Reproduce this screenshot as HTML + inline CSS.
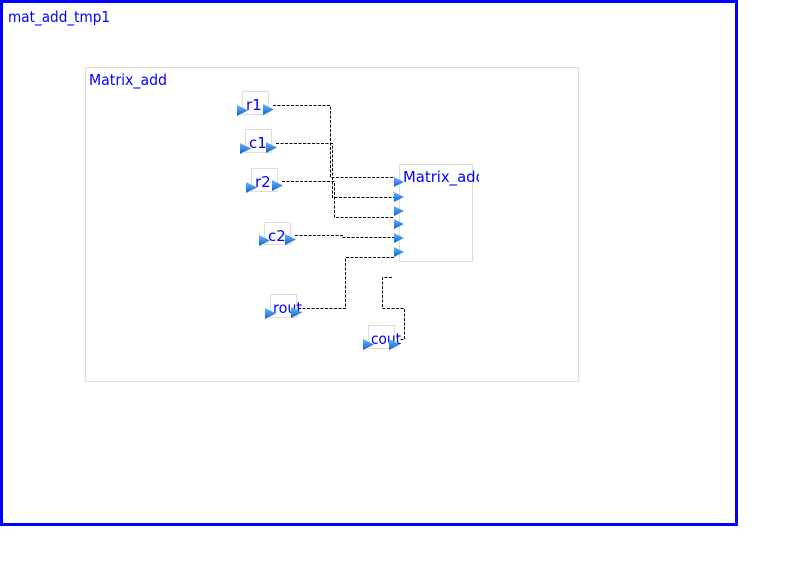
<!DOCTYPE html>
<html><head><meta charset="utf-8"><style>
html,body{margin:0;padding:0;background:#fff;width:789px;height:577px;overflow:hidden}
svg{display:block}
text{font-family:"DejaVu Sans","Liberation Sans",sans-serif;fill:#0000ff;font-size:15px}
</style></head><body>
<svg width="789" height="577" viewBox="0 0 789 577" xmlns="http://www.w3.org/2000/svg">
<defs>
<linearGradient id="g" x1="0" y1="0" x2="0" y2="1">
<stop offset="0" stop-color="#6ab8ff"/><stop offset="1" stop-color="#1060d0"/>
</linearGradient>
<symbol id="a" viewBox="0 0 10 10"><polygon points="0,0 10,5 0,10" fill="url(#g)"/></symbol>
</defs>
<rect x="1.5" y="1.5" width="735" height="523" fill="none" stroke="#0000ff" stroke-width="3"/>
<text x="8" y="22" textLength="102" lengthAdjust="spacingAndGlyphs">mat_add_tmp1</text>
<rect x="85.5" y="67.5" width="493" height="314" fill="none" stroke="#dddddd"/>
<text x="89" y="85" textLength="78" lengthAdjust="spacingAndGlyphs">Matrix_add</text>
<rect x="399.5" y="164.5" width="73" height="97" fill="none" stroke="#dddddd"/>
<g fill="#fff" stroke="#dddddd">
<rect x="242.5" y="91.5" width="26" height="23"/>
<rect x="245.5" y="129.5" width="26" height="23"/>
<rect x="251.5" y="168.5" width="26" height="23"/>
<rect x="264.5" y="222.5" width="26" height="22"/>
<rect x="270.5" y="294.5" width="26" height="23"/>
<rect x="368.5" y="325.5" width="26" height="23"/>
</g>
<text x="246" y="110">r1</text>
<text x="249" y="148">c1</text>
<text x="255" y="187">r2</text>
<text x="268" y="241">c2</text>
<text x="273" y="313" textLength="29" lengthAdjust="spacingAndGlyphs">rout</text>
<text x="371" y="344" textLength="30" lengthAdjust="spacingAndGlyphs">cout</text>
<text x="403" y="182" textLength="82" lengthAdjust="spacingAndGlyphs">Matrix_add</text>
<rect x="479" y="164" width="6" height="100" fill="#fff"/>
<g fill="none" stroke="#000" stroke-width="1" stroke-dasharray="3,1.5">
<polyline points="273,105.5 330.5,105.5 330.5,177.5 394,177.5"/>
<polyline points="276,143.5 332.5,143.5 332.5,197.5 394,197.5"/>
<polyline points="282,181.5 334.5,181.5 334.5,217.5 394,217.5"/>
<polyline points="295,235.5 342.5,235.5 342.5,237.5 394,237.5"/>
<polyline points="394,257.5 345.5,257.5 345.5,308.5 298,308.5"/>
<polyline points="392,277.5 382.5,277.5 382.5,308.5 404.5,308.5 404.5,339.5 399,339.5"/>
</g>
<use href="#a" x="237" y="105" width="11" height="11"/>
<use href="#a" x="263" y="104" width="11" height="11"/>
<use href="#a" x="240" y="143" width="11" height="11"/>
<use href="#a" x="266" y="142" width="11" height="11"/>
<use href="#a" x="246" y="182" width="11" height="11"/>
<use href="#a" x="272" y="180" width="11" height="11"/>
<use href="#a" x="259" y="235" width="11" height="11"/>
<use href="#a" x="285" y="234" width="11" height="11"/>
<use href="#a" x="265" y="308" width="11" height="11"/>
<use href="#a" x="291" y="307" width="11" height="11"/>
<use href="#a" x="363" y="339" width="11" height="11"/>
<use href="#a" x="389" y="339" width="11" height="11"/>
<use href="#a" x="394" y="177" width="10" height="10"/>
<use href="#a" x="394" y="192" width="10" height="10"/>
<use href="#a" x="394" y="206" width="10" height="10"/>
<use href="#a" x="394" y="219" width="10" height="10"/>
<use href="#a" x="394" y="233" width="10" height="10"/>
<use href="#a" x="394" y="247" width="10" height="10"/>
</svg>
</body></html>
